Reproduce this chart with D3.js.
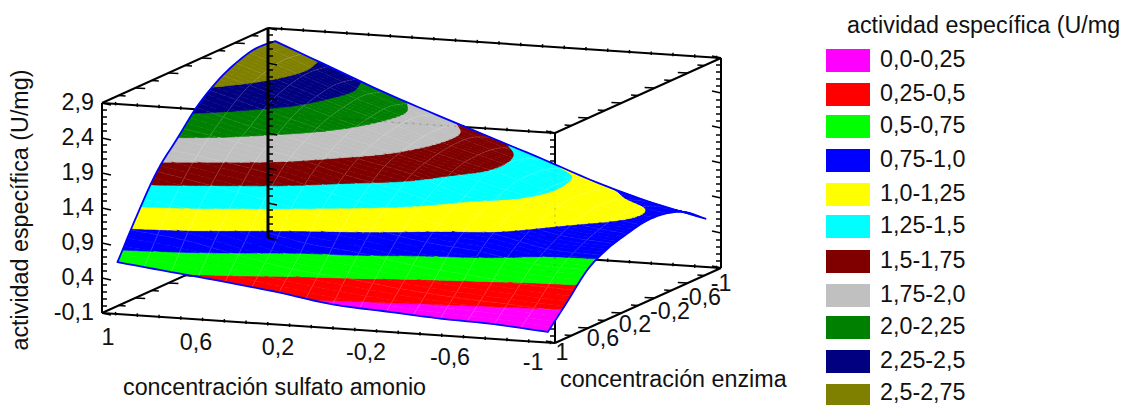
<!DOCTYPE html>
<html>
<head>
<meta charset="utf-8">
<script src="https://cdn.jsdelivr.net/npm/d3@7"></script>
<style>
html,body{margin:0;padding:0;background:#fff;overflow:hidden}
svg{display:block}
text{font-family:"Liberation Sans",Arial,sans-serif;font-size:23.3px;fill:#111}
</style>
</head>
<body>
<svg id="c" width="1125" height="405"></svg>
<script>
// ---------- data ----------
const gridSulfato = [0.95,0.7125,0.475,0.2375,0,-0.2375,-0.475,-0.7125,-0.95];
const gridEnzima  = [0.95,0.7125,0.475,0.2375,0,-0.2375,-0.475,-0.7125,-0.95];
// one row per enzima level, one value per sulfato level
const row0 = [0.61,0.52,0.43,0.33,0.21,0.16,0.11,0.08,0.02];
const row1 = [1.16,1.06,0.875,0.71,0.64,0.52,0.44,0.38,0.33];
const row2 = [1.65,1.50,1.35,1.17,1.03,0.89,0.81,0.68,0.65];
const row3 = [1.98,1.86,1.71,1.50,1.33,1.14,1.05,0.87,0.82];
const row4 = [2.31,2.09,1.92,1.73,1.56,1.30,1.18,1.01,0.91];
const row5 = [2.54,2.31,2.08,1.87,1.66,1.47,1.26,1.09,0.97];
const row6 = [2.69,2.43,2.16,1.94,1.71,1.50,1.27,1.08,0.95];
const row7 = [2.77,2.48,2.20,1.95,1.70,1.45,1.22,0.96,0.84];
const row8 = [2.75,2.44,2.13,1.85,1.58,1.31,1.03,0.80,0.62];
const activity = [row0,row1,row2,row3,row4,row5,row6,row7,row8];

const bandLabels = ["0,0-0,25","0,25-0,5","0,5-0,75","0,75-1,0","1,0-1,25","1,25-1,5","1,5-1,75","1,75-2,0","2,0-2,25","2,25-2,5","2,5-2,75"];
const bandLimits = [-Infinity,0.25,0.5,0.75,1,1.25,1.5,1.75,2,2.25,2.5,Infinity];
const bandColors = ["#ff00ff","#ff0000","#00ff00","#0000ff","#ffff00","#00ffff","#800000","#c0c0c0","#008000","#000080","#808000"];

const zTickLabels = ["-0,1","0,4","0,9","1,4","1,9","2,4","2,9"];
const zTickValues = [-0.1,0.4,0.9,1.4,1.9,2.4,2.9];
const xTickLabels = ["1","0,6","0,2","-0,2","-0,6","-1"];
const xTickValues = [1,0.6,0.2,-0.2,-0.6,-1];
const yTickLabels = ["1","0,6","0,2","-0,2","-0,6","-1"];
const yTickValues = [1,0.6,0.2,-0.2,-0.6,-1];

const zLabel = "actividad específica (U/mg)";
const xLabel = "concentración sulfato amonio";
const yLabel = "concentración enzima";
const legendTitle = "actividad específica (U/mg";

// ---------- projection ----------
const svg = d3.select("#c");
const ux = d3.scaleLinear().domain([1,-1]).range([0,1]);
const vy = d3.scaleLinear().domain([1,-1]).range([0,1]);
const wz = d3.scaleLinear().domain([-0.1,2.9]).range([0,1]);
const sx = (x,y)=>102+453*ux(x)+166*vy(y);
const sy = (x,y,z)=>313+30*ux(x)-75*vy(y)-210*wz(z);
const P = (x,y,z)=>[sx(x,y),sy(x,y,z)];
const line = d3.line();

// smooth surface through the read values
function cr(a,b,c,d,t){return 0.5*(2*b+(c-a)*t+(2*a-5*b+4*c-d)*t*t+(3*b-a-3*c+d)*t*t*t);}
function at(r,c){
  const rr=Math.max(0,Math.min(8,r)),cc=Math.max(0,Math.min(8,c));
  let v=activity[rr][cc];
  if(r<0) v=2*activity[0][cc]-activity[1][cc];
  if(r>8) v=2*activity[8][cc]-activity[7][cc];
  if(c<0) v=2*activity[rr][0]-activity[rr][1];
  if(c>8) v=2*activity[rr][8]-activity[rr][7];
  return v;
}
function surf(r,c){
  const r0=Math.min(7,Math.floor(r)),c0=Math.min(7,Math.floor(c)),tr=r-r0,tc=c-c0;
  const q=[-1,0,1,2].map(dr=>cr(at(r0+dr,c0-1),at(r0+dr,c0),at(r0+dr,c0+1),at(r0+dr,c0+2),tc));
  return cr(q[0],q[1],q[2],q[3],tr);
}
const SUB=6, N=8*SUB;
const idx=i=>i/SUB;
const xAt=d3.scaleLinear().domain([0,8]).range([gridSulfato[0],gridSulfato[8]]);
const yAt=d3.scaleLinear().domain([0,8]).range([gridEnzima[0],gridEnzima[8]]);
const nodes=d3.range(N+1).map(j=>d3.range(N+1).map(i=>{
  const z=surf(idx(j),idx(i));
  const p=P(xAt(idx(i)),yAt(idx(j)),z);
  return {z,p};
}));

function clip(poly,lim,above){
  const out=[];
  for(let k=0;k<poly.length;k++){
    const a=poly[k],b=poly[(k+1)%poly.length];
    const ia=above?a.z>=lim:a.z<=lim, ib=above?b.z>=lim:b.z<=lim;
    if(ia) out.push(a);
    if(ia!==ib){
      const t=(lim-a.z)/(b.z-a.z);
      out.push({z:lim,p:[a.p[0]+t*(b.p[0]-a.p[0]),a.p[1]+t*(b.p[1]-a.p[1])]});
    }
  }
  return out;
}
function bandPath(j,b){
  let s="";
  const lo=bandLimits[b],hi=bandLimits[b+1];
  for(let i=0;i<N;i++){
    const A=nodes[j][i],B=nodes[j][i+1],C=nodes[j+1][i+1],D=nodes[j+1][i];
    for(const tri of [[A,B,C],[A,C,D]]){
      let poly=tri;
      if(lo>-Infinity) poly=clip(poly,lo,true);
      if(poly.length&&hi<Infinity) poly=clip(poly,hi,false);
      if(poly.length>2) s+=line(poly.map(d=>d.p))+"Z";
    }
  }
  return s;
}

// ---------- box behind the surface ----------
const back=svg.append("g").attr("stroke","#000").attr("fill","none");
const edge=(g,a,b,w)=>g.append("path").attr("d",line([a,b])).attr("stroke-width",w);
const Z0=-0.1,Z1=2.9;
[[ [1,1,Z1],[1,-1,Z1] ],[ [1,-1,Z1],[-1,-1,Z1] ],[ [-1,-1,Z1],[-1,1,Z1] ],[ [-1,1,Z1],[1,1,Z1] ],
 [ [1,1,Z0],[1,-1,Z0] ],[ [1,-1,Z0],[-1,-1,Z0] ],[ [-1,-1,Z0],[-1,1,Z0] ],[ [-1,1,Z0],[1,1,Z0] ],
 [ [1,1,Z0],[1,1,Z1] ],[ [-1,-1,Z0],[-1,-1,Z1] ],[ [-1,1,Z0],[-1,1,Z1] ]
].forEach(e=>edge(back,P(...e[0]),P(...e[1]),2));

const zMinor=d3.range(-0.1,2.95,0.1);
function zTicks(g,x,y,dir){
  zMinor.forEach((z,i)=>{
    const major=i%5===0, L=major?9:5, p=P(x,y,z);
    g.append("path").attr("stroke-width",1.5).attr("d",line([p,[p[0]+dir*L,p[1]+(major?dir*2:0)]]));
  });
}
zTicks(back,1,1,1); zTicks(back,-1,-1,-1); zTicks(back,-1,1,-1);
const xMinor=d3.range(0.94,-1,-0.096);
[[1,Z0],[-1,Z0],[1,Z1],[-1,Z1]].forEach(([y,z])=>{
  xMinor.forEach(x=>{
    const p=P(x,y,z);
    back.append("path").attr("stroke-width",1.5).attr("d",line([[p[0],p[1]-2],[p[0],p[1]+1.5]]));
  });
});
const yMinor=d3.range(0.8,-1,-0.2);
[[-1,-1],[1,1]].forEach(([x,dir])=>[Z0,Z1].forEach(z=>{
  yMinor.forEach((y,i)=>{
    const p=P(x,y,z),L=i%2?10:7;
    back.append("path").attr("stroke-width",1.5).attr("d",line([p,[p[0]+dir*L,p[1]+dir*0.6]]));
  });
}));

// ---------- surface, painted from the back row to the front row ----------
const strips=svg.append("g").selectAll("g").data(d3.range(N-1,-1,-1)).join("g");
strips.each(function(j){
  const g=d3.select(this);
  bandColors.forEach((col,b)=>{
    const d=bandPath(j,b);
    if(d) g.append("path").attr("d",d).attr("fill",col).attr("stroke",col).attr("stroke-width",0.5);
  });
  const mesh=g.append("g").attr("fill","none").attr("stroke","#fff").attr("stroke-opacity",0.3).attr("stroke-width",0.8);
  if(j%4===0) mesh.append("path").attr("d",line(nodes[j].map(d=>d.p)));
  for(let i=0;i<=N;i+=3) mesh.append("path").attr("d",line([nodes[j][i].p,nodes[j+1][i].p]));
});

// faint traces of the box seen through the surface
const ghost=svg.append("g").attr("fill","none").attr("stroke","#333").attr("stroke-opacity",0.3).attr("stroke-dasharray","2 5");
ghost.append("path").attr("d",line([P(-1,1,1.0),P(-1,1,1.9)]));
ghost.append("path").attr("d",line([P(0,1,Z1),P(-0.6,1,Z1)]));

// outline
const outline=[].concat(nodes[0].map(d=>d.p),nodes.map(r=>r[N].p),nodes[N].map(d=>d.p).reverse(),nodes.map(r=>r[0].p).reverse());
svg.append("path").attr("d",line(outline)+"Z").attr("fill","none").attr("stroke","#0000ff").attr("stroke-width",1.8).attr("stroke-linejoin","round");

// back vertical drawn over the surface
const front=svg.append("g").attr("stroke","#000").attr("fill","none");
edge(front,P(1,-1,Z0),P(1,-1,Z1),3);
zTicks(front,1,-1,1);

// ---------- text ----------
zTickValues.forEach((z,i)=>{
  svg.append("text").attr("x",94).attr("y",P(1,1,z)[1]+7).attr("text-anchor","end").text(zTickLabels[i]);
});
const xLabX=d3.scaleLinear().domain(xTickValues).range([108,196,278,366,450,533]);
const xLabY=d3.scaleLinear().domain([1,-1]).range([345,370]);
xTickValues.forEach((x,i)=>{
  svg.append("text").attr("x",xLabX(x)).attr("y",xLabY(x)).attr("text-anchor","middle").text(xTickLabels[i]);
});
const yLabX=d3.scaleLinear().domain(yTickValues).range([562,603,635,670,701,721]);
const yLabY=d3.scaleLinear().domain([1,-1]).range([360,291]);
yTickValues.forEach((y,i)=>{
  svg.append("text").attr("x",yLabX(y)).attr("y",yLabY(y)).attr("text-anchor","middle").text(yTickLabels[i]);
});
svg.append("text").attr("transform","translate(28,210) rotate(-90)").attr("text-anchor","middle").text(zLabel);
svg.append("text").attr("x",123).attr("y",395).text(xLabel);
svg.append("text").attr("x",560).attr("y",387).text(yLabel);

// ---------- legend ----------
svg.append("text").attr("x",847).attr("y",33).text(legendTitle);
const legendTop=[49,83,115,149,183,215,250,284,316,350,384];
const legendBase=[66.6,100.6,132.6,166.6,200.6,232.6,267.6,301.6,333.6,367.6,400];
const legend=svg.append("g").selectAll("g").data(bandLabels).join("g");
legend.append("rect").attr("x",826).attr("y",(d,i)=>legendTop[i]).attr("width",44).attr("height",(d,i)=>i===10?21:23).attr("fill",(d,i)=>bandColors[i]);
legend.append("text").attr("x",880).attr("y",(d,i)=>legendBase[i]).text(d=>d);
</script>
</body>
</html>
